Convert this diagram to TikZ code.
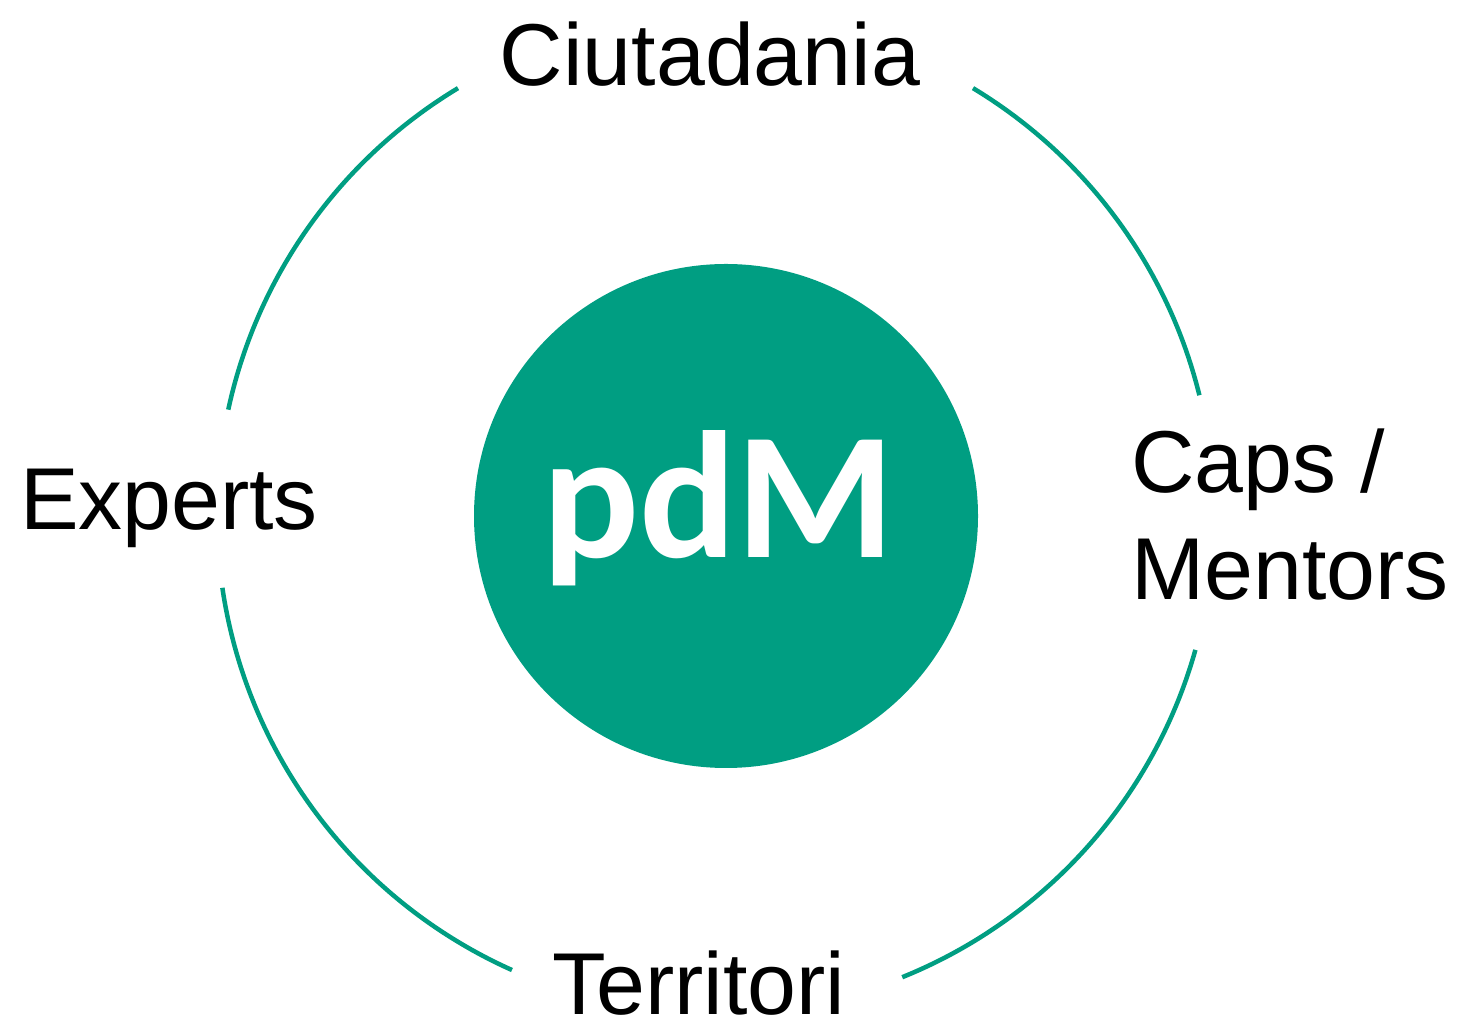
\documentclass[tikz,border=0pt]{standalone}
\usepackage{fontspec}
\setmainfont{Liberation Sans}
\newfontfamily\pdmfont{Carlito}
\usepackage{tikz}
\usetikzlibrary{positioning}
\definecolor{pdmgreen}{RGB}{0,158,130}
\newcommand{\mLabelStyle}{\fontsize{50}{61}\selectfont}
\newcommand{\ring}[2]{\draw[pdmgreen,line width=0.09cm] ([shift={(#1:9.97)}]ctr) arc[start angle=#1,end angle=#2,radius=9.97]}

\begin{document}
\begin{tikzpicture}[label/.style={font=\mLabelStyle,anchor=base}]
    \useasboundingbox (0,0) rectangle (29.24,20.44);
    \coordinate (ctr) at (14.31,10.14);
    \node[circle,fill=pdmgreen,minimum size=10.08cm,inner sep=0] (core) at (14.52,10.12) {};
    \node[anchor=base,text=white,font=\pdmfont\bfseries\fontsize{103}{120}\selectfont] (pdm) at (14.37,9.28) {pdM};
    \ring{13.9}{58.9};
    \ring{121.1}{167.8};
    \ring{188.4}{245.9};
    \ring{292}{344.3};
    \node[label] (ciu) at (14.20,18.72) {Ciutadania};
    \node[label] (exp) at (3.38,9.84) {Experts};
    \node[label,anchor=base west,align=left,inner sep=0] (caps) at (22.62,8.44) {Caps /\\Mentors};
    \node[label] (ter) at (13.98,0.14) {Territori};
\end{tikzpicture}
\end{document}
